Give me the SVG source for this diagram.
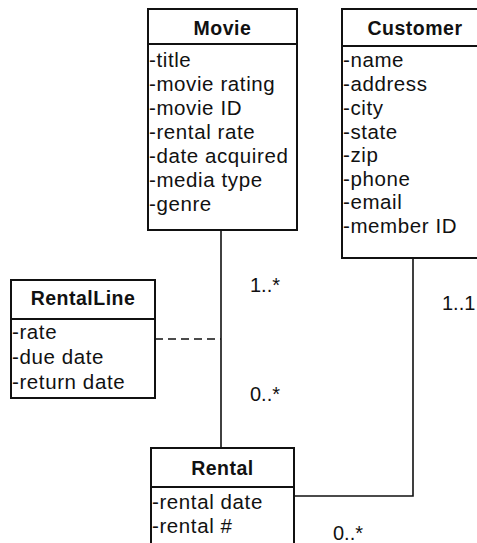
<svg xmlns="http://www.w3.org/2000/svg" width="477" height="543" viewBox="0 0 477 543">
  <style>
    .box { fill: #fff; stroke: #111; stroke-width: 2; }
    .sep { stroke: #111; stroke-width: 2; }
    .title { font-family: "Liberation Sans", Arial, sans-serif; font-weight: bold; font-size: 19.5px; letter-spacing: 0.5px; fill: #111; text-anchor: middle; }
    .attr { font-family: "Liberation Sans", Arial, sans-serif; font-size: 20.5px; letter-spacing: 0.6px; fill: #111; }
    .mult { font-family: "Liberation Sans", Arial, sans-serif; font-size: 20px; fill: #111; }
    .link { fill: none; stroke: #111; stroke-width: 1.6; }
    .dash { stroke-dasharray: 8 5; }
  </style>
  <rect width="477" height="543" fill="#fff"/>

  <!-- associations -->
  <g id="connectors">
    <line class="link" x1="221" y1="230" x2="221" y2="448"/>
    <polyline class="link" points="294,496 413,496 413,258"/>
    <line class="link dash" x1="155" y1="339" x2="221" y2="339"/>
    <text class="mult" x="250" y="292">1..*</text>
    <text class="mult" x="442" y="310">1..1</text>
    <text class="mult" x="250" y="401">0..*</text>
    <text class="mult" x="333" y="540">0..*</text>
  </g>

  <g id="movie">
    <rect class="box" x="148" y="9" width="149" height="221"/>
    <line class="sep" x1="148" y1="44" x2="297" y2="44"/>
    <text class="title" x="222.5" y="35">Movie</text>
    <text class="attr" x="149" y="67">-title</text>
    <text class="attr" x="149" y="91">-movie rating</text>
    <text class="attr" x="149" y="115">-movie ID</text>
    <text class="attr" x="149" y="139">-rental rate</text>
    <text class="attr" x="149" y="163">-date acquired</text>
    <text class="attr" x="149" y="187">-media type</text>
    <text class="attr" x="149" y="211">-genre</text>
  </g>

  <g id="customer">
    <rect class="box" x="342" y="9" width="150" height="249"/>
    <line class="sep" x1="342" y1="46" x2="492" y2="46"/>
    <text class="title" x="415" y="35">Customer</text>
    <text class="attr" x="343" y="67">-name</text>
    <text class="attr" x="343" y="91">-address</text>
    <text class="attr" x="343" y="115">-city</text>
    <text class="attr" x="343" y="138.5">-state</text>
    <text class="attr" x="343" y="162">-zip</text>
    <text class="attr" x="343" y="185.5">-phone</text>
    <text class="attr" x="343" y="209">-email</text>
    <text class="attr" x="343" y="233">-member ID</text>
  </g>

  <g id="rentalline">
    <rect class="box" x="11" y="280" width="144" height="118"/>
    <line class="sep" x1="11" y1="319" x2="155" y2="319"/>
    <text class="title" x="83" y="305">RentalLine</text>
    <text class="attr" x="12" y="339">-rate</text>
    <text class="attr" x="12" y="364">-due date</text>
    <text class="attr" x="12" y="389">-return date</text>
  </g>

  <g id="rental">
    <rect class="box" x="151" y="448" width="143" height="110"/>
    <line class="sep" x1="151" y1="487" x2="294" y2="487"/>
    <text class="title" x="222.5" y="475">Rental</text>
    <text class="attr" x="152" y="509">-rental date</text>
    <text class="attr" x="152" y="533">-rental #</text>
  </g>
</svg>
